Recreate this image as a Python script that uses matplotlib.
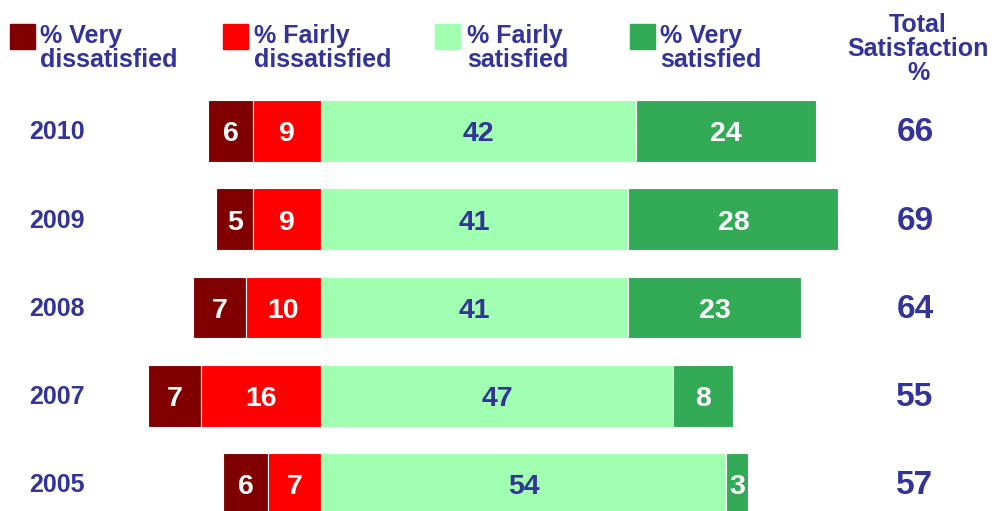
import matplotlib
matplotlib.use("Agg")
import matplotlib.pyplot as plt
from matplotlib.patches import Rectangle

years = ["2010", "2009", "2008", "2007", "2005"]
very_dis = [6, 5, 7, 7, 6]
fairly_dis = [9, 9, 10, 16, 7]
fairly_sat = [42, 41, 41, 47, 54]
very_sat = [24, 28, 23, 8, 3]
total_sat = [66, 69, 64, 55, 57]

legend_labels = [["% Very", "dissatisfied"], ["% Fairly", "dissatisfied"],
                 ["% Fairly", "satisfied"], ["% Very", "satisfied"]]
total_header = ["Total", "Satisfaction", "%"]
colors = ["#800000", "#FF0000", "#A0FFB0", "#33AA55"]
text_colors = ["white", "white", "#333399", "white"]
navy = "#333399"

plt.rcParams['font.family'] = ['Liberation Sans', 'DejaVu Sans']

W, H = 992, 511
fig = plt.figure(figsize=(W / 100, H / 100), dpi=100)
ax = fig.add_axes([0, 0, 1, 1])
ax.set_xlim(-42.8, 89.47)
ax.set_ylim(4.306, -1.484)
ax.axis('off')

ppu = 88.25  # pixels per row unit
h = 0.70
for i, y in enumerate(years):
    segs = [
        (-(very_dis[i] + fairly_dis[i]), very_dis[i]),
        (-fairly_dis[i], fairly_dis[i]),
        (0, fairly_sat[i]),
        (fairly_sat[i], very_sat[i]),
    ]
    for k, (left, w) in enumerate(segs):
        ax.barh(i, w, left=left, height=h, color=colors[k], edgecolor='white', linewidth=0.8)
        ax.text(left + w / 2, i + 10.5 / ppu, str(w), ha='center', va='baseline',
                color=text_colors[k], fontsize=20.5, fontweight='bold')
    ax.text(-35.2, i + 8.5 / ppu, y, ha='center', va='baseline', color=navy,
            fontsize=18, fontweight='bold')
    ax.text(79.2, i + 10.5 / ppu, str(total_sat[i]), ha='center', va='baseline',
            color=navy, fontsize=24, fontweight='bold')

# legend
sq_x = [10, 223, 435, 630]
tx_x = [40, 254, 467, 660]
for k in range(4):
    fig.patches.append(Rectangle((sq_x[k] / W, 1 - 49 / H), 25 / W, 25 / H,
                                 transform=fig.transFigure, color=colors[k]))
    for j, line in enumerate(legend_labels[k]):
        fig.text(tx_x[k] / W, 1 - (43 + 24 * j) / H, line, ha='left', va='baseline',
                 color=navy, fontsize=18, fontweight='bold')
for j, line in enumerate(total_header):
    fig.text(918 / W, 1 - (32 + 24 * j) / H, line, ha='center', va='baseline',
             color=navy, fontsize=18, fontweight='bold')

fig.savefig("out.png", dpi=100)
